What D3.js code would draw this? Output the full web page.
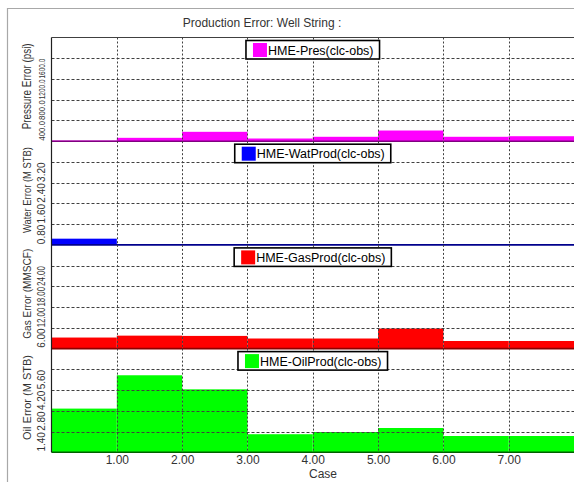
<!DOCTYPE html>
<html>
<head>
<meta charset="utf-8">
<script src="https://cdn.jsdelivr.net/npm/d3@7"></script>
<style>
  html, body { margin: 0; padding: 0; background: #fff; }
  svg { display: block; font-family: "Liberation Sans", Arial, sans-serif; }
</style>
</head>
<body>
<svg id="chart" width="574" height="482"></svg>
<script>
// Case bins: bar i spans [i-1, i] on the Case axis
const cases = [1, 2, 3, 4, 5, 6, 7, 8];
const caseTicks = [1, 2, 3, 4, 5, 6, 7];

// Error per case, one series per panel
const presErr = [12, 65, 181, 52, 85, 206, 85, 96];
const watErr  = [0.24, 0.02, 0.02, 0.02, 0.02, 0.02, 0.02, 0.02];
const gasErr  = [3.2, 3.75, 3.67, 2.92, 2.92, 5.81, 2.2, 2.2];
const oilErr  = [2.95, 5.2, 4.25, 1.22, 1.37, 1.64, 1.10, 1.10];

// Y tick values and upper bounds
const presTicks = [400, 800, 1200, 1600];
const watTicks  = [0.8, 1.6, 2.4, 3.2];
const gasTicks  = [6, 12, 18, 24];
const oilTicks  = [1.4, 2.8, 4.2, 5.6];
const presMax = 2000, watMax = 4, gasMax = 30, oilMax = 7;

const panels = [
  { name: "HME-Pres(clc-obs)",    title: "Pressure Error (psi)", values: presErr, ticks: presTicks, max: presMax, fmt: d3.format(".1f"), color: "#ff00ff", base: "#800080", titleSize: 12, titleLen: 86, labelSize: 9.5 },
  { name: "HME-WatProd(clc-obs)", title: "Water Error (M STB)",  values: watErr,  ticks: watTicks,  max: watMax,  fmt: d3.format(".2f"), color: "#0000ff", base: "#00008c", titleSize: 11, titleLen: 86, labelSize: 10 },
  { name: "HME-GasProd(clc-obs)", title: "Gas Error (MMSCF)",    values: gasErr,  ticks: gasTicks,  max: gasMax,  fmt: d3.format(".2f"), color: "#ff0000", base: "#8c0000", titleSize: 11, titleLen: 90, labelSize: 10 },
  { name: "HME-OilProd(clc-obs)", title: "Oil Error (M STB)",    values: oilErr,  ticks: oilTicks,  max: oilMax,  fmt: d3.format(".2f"), color: "#00ff00", base: "#006000", titleSize: 11, titleLen: 85, labelSize: 10 }
];

const svg = d3.select("#chart");
const plotLeft = 51.5, plotRight = 574, plotTop = 37.5, panelH = 103.7;
const plotBottom = plotTop + panelH * panels.length;
const textColor = "#333";

// Outer frame
svg.append("path")
  .attr("d", `M7.5,482 V8.5 H574`)
  .attr("fill", "none").attr("stroke", "#a8a8a8").attr("stroke-width", 1.2);

// Chart title
svg.append("text")
  .attr("x", 262).attr("y", 27)
  .attr("text-anchor", "middle")
  .attr("font-size", 12).attr("fill", textColor)
  .text("Production Error: Well String :");

const x = d3.scaleLinear().domain([0, 8]).range([plotLeft, plotRight]);

panels.forEach((p, i) => {
  const y0 = plotTop + panelH * (i + 1);
  const y1 = plotTop + panelH * i;
  const y = d3.scaleLinear().domain([0, p.max]).range([y0, y1]);
  const g = svg.append("g");

  // Bars
  g.selectAll("rect.bar").data(p.values).join("rect")
    .attr("class", "bar")
    .attr("x", (d, k) => x(cases[k] - 1))
    .attr("width", (d, k) => x(cases[k]) - x(cases[k] - 1))
    .attr("y", d => y(d))
    .attr("height", d => y0 - y(d))
    .attr("fill", p.color);

  // Horizontal grid
  g.selectAll("line.hgrid").data(p.ticks).join("line")
    .attr("class", "hgrid")
    .attr("x1", plotLeft).attr("x2", plotRight)
    .attr("y1", d => Math.round(y(d)) + 0.5).attr("y2", d => Math.round(y(d)) + 0.5)
    .attr("stroke", "#404040").attr("stroke-width", 1)
    .attr("stroke-dasharray", "3,2");

  // Vertical grid
  g.selectAll("line.vgrid").data(caseTicks).join("line")
    .attr("class", "vgrid")
    .attr("x1", d => Math.round(x(d)) + 0.5).attr("x2", d => Math.round(x(d)) + 0.5)
    .attr("y1", y1).attr("y2", y0)
    .attr("stroke", "#404040").attr("stroke-width", 1)
    .attr("stroke-dasharray", "2,2");

  // Zero line
  g.append("line")
    .attr("x1", plotLeft).attr("x2", plotRight)
    .attr("y1", y0).attr("y2", y0)
    .attr("stroke", p.base).attr("stroke-width", 1.6);

  // Y axis with rotated labels
  const ax = g.append("g")
    .attr("transform", `translate(${plotLeft},0)`)
    .call(d3.axisLeft(y).tickValues(p.ticks).tickSize(0).tickFormat(p.fmt));
  ax.select(".domain").remove();
  ax.selectAll("text")
    .attr("x", null).attr("dy", null)
    .attr("transform", "translate(-7,0) rotate(-90)")
    .attr("text-anchor", "end")
    .attr("font-size", p.labelSize)
    .attr("font-family", "'Liberation Sans', Arial, sans-serif")
    .attr("fill", textColor)
    .each(function () {
      const room = panelH / (p.ticks.length + 1) - 1;
      const len = this.getComputedTextLength();
      if (len > room) {
        d3.select(this).attr("textLength", room).attr("lengthAdjust", "spacingAndGlyphs");
      }
    });

  // Axis title
  g.append("text")
    .attr("transform", `translate(31,${(y0 + y1) / 2 - 3}) rotate(-90)`)
    .attr("text-anchor", "middle")
    .attr("font-size", p.titleSize)
    .attr("fill", textColor)
    .attr("textLength", p.titleLen).attr("lengthAdjust", "spacingAndGlyphs")
    .text(p.title);

  // Legend box
  const lg = g.append("g");
  const lt = lg.append("text")
    .attr("font-size", 12.5).attr("fill", "#000")
    .text(p.name);
  const tw = lt.node().getComputedTextLength();
  const bw = 7 + 14 + 1 + tw + 6, bh = 18.5;
  const bx = (plotLeft + plotRight) / 2 - bw / 2, by = y1 + 3;
  lg.insert("rect", "text")
    .attr("x", bx).attr("y", by).attr("width", bw).attr("height", bh)
    .attr("fill", "#fff").attr("stroke", "#000").attr("stroke-width", 1.6);
  lg.insert("rect", "text")
    .attr("x", bx + 7).attr("y", by + 2.5).attr("width", 14).attr("height", 14)
    .attr("fill", p.color);
  lt.attr("x", bx + 22).attr("y", by + 14.2);
});

// Plot frame: top edge and left edge
svg.append("line")
  .attr("x1", plotLeft).attr("x2", plotRight).attr("y1", plotTop).attr("y2", plotTop)
  .attr("stroke", "#404040").attr("stroke-width", 1);
svg.append("line")
  .attr("x1", plotLeft).attr("x2", plotLeft).attr("y1", plotTop).attr("y2", plotBottom)
  .attr("stroke", "#202020").attr("stroke-width", 1.2);

// X axis
const xa = svg.append("g")
  .attr("transform", `translate(0,${plotBottom})`)
  .call(d3.axisBottom(x).tickValues(caseTicks).tickSize(0).tickPadding(3).tickFormat(d3.format(".2f")));
xa.select(".domain").remove();
xa.selectAll("text")
  .attr("font-size", 12)
  .attr("font-family", "'Liberation Sans', Arial, sans-serif")
  .attr("fill", textColor);

svg.append("text")
  .attr("x", 323).attr("y", 478)
  .attr("text-anchor", "middle")
  .attr("font-size", 12).attr("fill", textColor)
  .text("Case");
</script>
</body>
</html>
